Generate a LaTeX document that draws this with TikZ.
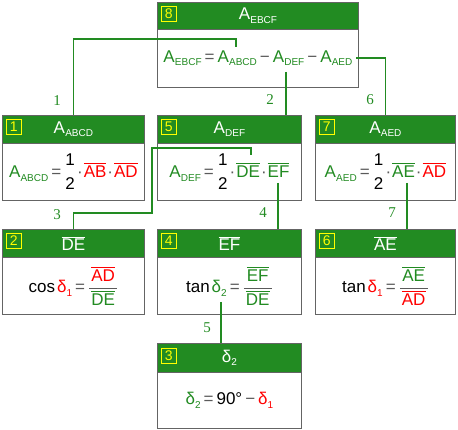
\documentclass[tikz,border=0pt]{standalone}
\usepackage{amsmath}
\usepackage{fontspec}
\setmainfont{Liberation Sans}
\newfontfamily\labfont{Liberation Serif}
\definecolor{hdr}{RGB}{34,139,34}
\definecolor{gtx}{RGB}{34,139,34}
\definecolor{rtx}{RGB}{255,0,0}
\definecolor{yel}{RGB}{255,255,0}
\definecolor{bord}{RGB}{100,100,100}
\definecolor{op}{RGB}{90,90,90}
\newcommand\Sb[1]{\raisebox{-3.5pt}{\fontsize{10}{10}\selectfont #1}}
\newcommand\Ar[1]{A\kern0.2pt\Sb{#1}}
\newcommand\Ol[1]{$\overline{\mbox{#1}}$}
\newcommand\Eq{\hspace{3pt}\textcolor{op}{=}\hspace{3pt}}
\newcommand\Mi{\hspace{3pt}\textcolor{op}{−}\hspace{3pt}}
\newcommand\Dt{\hspace{1pt}\textcolor{op}{·}\hspace{1pt}}
\newcommand\Half{$\genfrac{}{}{0pt}{0}{\mbox{1}}{\mbox{2}}$}
\newcommand\Fr[2]{${\color{op}\dfrac{\mbox{\kern2pt#1\kern2pt}}{\mbox{\kern2pt#2\kern2pt}}}$}
\tikzset{
  hdrbox/.style={draw=bord, fill=hdr, text=white, line width=0.8pt, anchor=north west, inner sep=0pt, font=\fontsize{17}{20}\selectfont},
  bodybox/.style={draw=bord, fill=white, line width=0.8pt, anchor=north west, inner sep=0pt, font=\fontsize{17}{20}\selectfont},
  numbox/.style={draw=yel, text=yel, line width=0.7pt, anchor=north west, minimum size=15pt, inner sep=0pt, font=\fontsize{14}{14}\selectfont},
  conn/.style={draw=gtx, line width=1.6pt},
  lab/.style={text=gtx, font=\labfont\fontsize{15}{15}\selectfont, inner sep=0pt}
}
\begin{document}
\begin{tikzpicture}[x=1pt,y=-1pt]
\useasboundingbox (0,0) rectangle (458,430);
% box 8
\node[hdrbox, minimum width=201pt, minimum height=27pt] (h8) at (157,2) {\Ar{EBCF}};
\node[bodybox, minimum width=201pt, minimum height=58pt] (b8) at (157,29) {\textcolor{gtx}{\Ar{EBCF}}\Eq\textcolor{gtx}{\Ar{ABCD}}\Mi\textcolor{gtx}{\Ar{DEF}}\Mi\textcolor{gtx}{\Ar{AED}}};
\node[numbox] (n8) at (161,6) {8};
% box 1
\node[hdrbox, minimum width=142pt, minimum height=28pt] (h1) at (2,115) {\Ar{ABCD}};
\node[bodybox, minimum width=142pt, minimum height=57pt] (b1) at (2,143) {\textcolor{gtx}{\Ar{ABCD}}\Eq\Half\Dt\textcolor{rtx}{\Ol{AB}}\Dt\textcolor{rtx}{\Ol{AD}}};
\node[numbox] (n1) at (6,119) {1};
% box 5
\node[hdrbox, minimum width=144pt, minimum height=28pt] (h5) at (157,115) {\Ar{DEF}};
\node[bodybox, minimum width=144pt, minimum height=57pt] (b5) at (157,143) {\textcolor{gtx}{\Ar{DEF}}\Eq\Half\Dt\textcolor{gtx}{\Ol{DE}}\Dt\textcolor{gtx}{\Ol{EF}}};
\node[numbox] (n5) at (161,119) {5};
% box 7
\node[hdrbox, minimum width=140pt, minimum height=28pt] (h7) at (315,115) {\Ar{AED}};
\node[bodybox, minimum width=140pt, minimum height=57pt] (b7) at (315,143) {\textcolor{gtx}{\Ar{AED}}\Eq\Half\Dt\textcolor{gtx}{\Ol{AE}}\Dt\textcolor{rtx}{\Ol{AD}}};
\node[numbox] (n7) at (319,119) {7};
% box 2
\node[hdrbox, minimum width=142pt, minimum height=28pt] (h2) at (2,229) {\Ol{DE}};
\node[bodybox, minimum width=142pt, minimum height=57pt] (b2) at (2,257) {cos\hspace{2pt}\textcolor{rtx}{δ\Sb{1}}\Eq\Fr{\textcolor{rtx}{\Ol{AD}}}{\textcolor{gtx}{\Ol{DE}}}};
\node[numbox] (n2) at (6,233) {2};
% box 4
\node[hdrbox, minimum width=144pt, minimum height=28pt] (h4) at (157,229) {\Ol{EF}};
\node[bodybox, minimum width=144pt, minimum height=57pt] (b4) at (157,257) {tan\hspace{2pt}\textcolor{gtx}{δ\Sb{2}}\Eq\Fr{\textcolor{gtx}{\Ol{EF}}}{\textcolor{gtx}{\Ol{DE}}}};
\node[numbox] (n4) at (161,233) {4};
% box 6
\node[hdrbox, minimum width=140pt, minimum height=28pt] (h6) at (315,229) {\Ol{AE}};
\node[bodybox, minimum width=140pt, minimum height=57pt] (b6) at (315,257) {tan\hspace{2pt}\textcolor{rtx}{δ\Sb{1}}\Eq\Fr{\textcolor{gtx}{\Ol{AE}}}{\textcolor{rtx}{\Ol{AD}}}};
\node[numbox] (n6) at (319,233) {6};
% box 3
\node[hdrbox, minimum width=144pt, minimum height=29pt] (h3) at (157,343) {δ\Sb{2}};
\node[bodybox, minimum width=144pt, minimum height=56pt] (b3) at (157,372) {\textcolor{gtx}{δ\Sb{2}}\Eq 90°\Mi\textcolor{rtx}{δ\Sb{1}}};
\node[numbox] (n3) at (161,348) {3};
% connectors
\coordinate (c1s) at (236,47);
\coordinate (c2s) at (286,72);
\coordinate (c6s) at (356,58);
\coordinate (c3s) at (251,155);
\coordinate (c4s) at (278,183);
\coordinate (c7s) at (407,183);
\coordinate (c5s) at (221,302);
\draw[conn] (c1s) -- ++(0,-8) -| (h1.north);
\draw[conn] (c2s) -- (c2s |- h5.north);
\draw[conn] (c6s) -| (h7.north);
\draw[conn] (c3s) -- ++(0,-7) -| ++(-99,65) -| (h2.north);
\draw[conn] (c4s) -- (c4s |- h4.north);
\draw[conn] (c7s) -- (c7s |- h6.north);
\draw[conn] (c5s) -- (c5s |- h3.north);
% labels
\node[lab] (l1) at (57,101) {1};
\node[lab] (l2) at (270,100) {2};
\node[lab] (l6) at (370,100) {6};
\node[lab] (l3) at (57,215) {3};
\node[lab] (l4) at (263,213) {4};
\node[lab] (l7) at (392,213) {7};
\node[lab] (l5) at (207,328) {5};
\end{tikzpicture}
\end{document}
